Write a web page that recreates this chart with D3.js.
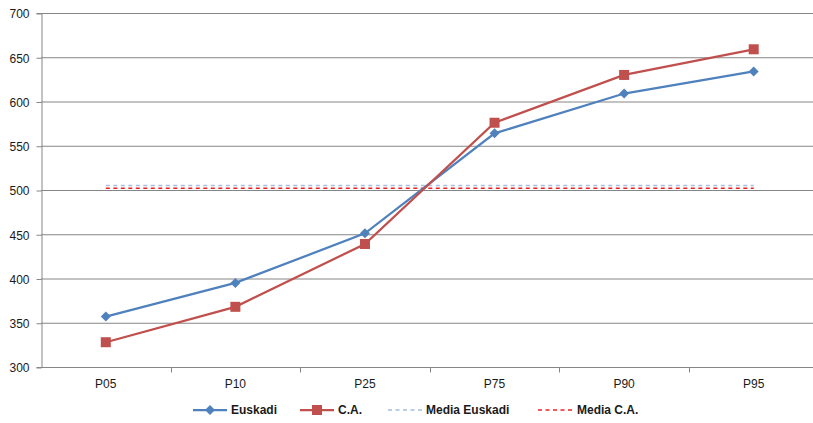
<!DOCTYPE html>
<html>
<head>
<meta charset="utf-8">
<script src="https://cdn.jsdelivr.net/npm/d3@7"></script>
<style>
  html, body { margin: 0; padding: 0; background: #fff; }
  svg { display: block; }
  text { font-family: "Liberation Sans", Arial, sans-serif; }
</style>
</head>
<body>
<svg id="chart" width="813" height="423"></svg>
<script>
// Percentile categories and scores
const categories = ["P05", "P10", "P25", "P75", "P90", "P95"];
const euskadi = [357, 395, 451, 564, 609, 634];
const ca = [328, 368, 439, 576, 630, 659];
const mediaEuskadi = 505;
const mediaCA = 502;
const yTicks = [300, 350, 400, 450, 500, 550, 600, 650, 700];

const svg = d3.select("#chart");
const plotLeft = 41, plotRight = 818.5, plotTop = 13, plotBottom = 367;

const x = d3.scaleBand().domain(categories).range([plotLeft, plotRight]).padding(0);
const cx = c => x(c) + x.bandwidth() / 2;
const y = d3.scaleLinear().domain([300, 700]).range([plotBottom, plotTop]);

const gridColor = "#868686";
const diamond = d3.symbol(d3.symbolSquare, 50);

// horizontal gridlines
svg.append("g").selectAll("line")
  .data(yTicks.filter(t => t > 300))
  .join("line")
  .attr("x1", plotLeft).attr("x2", plotRight)
  .attr("y1", d => y(d) + 0.5).attr("y2", d => y(d) + 0.5)
  .attr("stroke", gridColor).attr("stroke-width", 1);

// y axis
const yAxis = svg.append("g")
  .attr("transform", `translate(${plotLeft + 0.5},0)`)
  .call(d3.axisLeft(y).tickValues(yTicks).tickSize(5).tickPadding(7));
yAxis.select(".domain").attr("stroke", gridColor);
yAxis.selectAll(".tick line").attr("stroke", gridColor).attr("transform", "translate(0,0.5)");
yAxis.selectAll(".tick text").attr("font-size", 12).attr("fill", "#1a1a1a").attr("dy", "0.4em");

// x axis with ticks between categories
const xAxis = svg.append("g")
  .attr("transform", `translate(0,${plotBottom + 0.5})`);
xAxis.append("line")
  .attr("x1", plotLeft).attr("x2", plotRight)
  .attr("stroke", gridColor);
xAxis.selectAll("line.tk")
  .data(categories.slice(1))
  .join("line").attr("class", "tk")
  .attr("x1", d => Math.round(x(d)) + 0.5).attr("x2", d => Math.round(x(d)) + 0.5)
  .attr("y1", 0).attr("y2", 5)
  .attr("stroke", gridColor);
xAxis.selectAll("text")
  .data(categories)
  .join("text")
  .attr("x", d => cx(d)).attr("y", 20)
  .attr("text-anchor", "middle")
  .attr("font-size", 12).attr("fill", "#1a1a1a")
  .text(d => d);

// mean reference lines
const meanLines = [
  { v: mediaEuskadi, color: "#A7BFDE" },
  { v: mediaCA, color: "#F02020" }
];
svg.append("g").selectAll("line")
  .data(meanLines)
  .join("line")
  .attr("x1", cx(categories[0])).attr("x2", cx(categories[categories.length - 1]))
  .attr("y1", d => y(d.v)).attr("y2", d => y(d.v))
  .attr("stroke", d => d.color).attr("stroke-width", 1.5)
  .attr("stroke-dasharray", "4,3.5");

const line = d3.line().x((d, i) => cx(categories[i])).y(d => y(d));

// Euskadi series
svg.append("path").datum(euskadi)
  .attr("d", line).attr("fill", "none")
  .attr("stroke", "#4F81BD").attr("stroke-width", 2.25);
svg.append("g").selectAll("path")
  .data(euskadi)
  .join("path")
  .attr("transform", (d, i) => `translate(${cx(categories[i])},${y(d)}) rotate(45)`)
  .attr("d", diamond)
  .attr("fill", "#4F81BD");

// C.A. series
svg.append("path").datum(ca)
  .attr("d", line).attr("fill", "none")
  .attr("stroke", "#C0504D").attr("stroke-width", 2.25);
svg.append("g").selectAll("rect")
  .data(ca)
  .join("rect")
  .attr("x", (d, i) => cx(categories[i]) - 5).attr("y", d => y(d) - 5)
  .attr("width", 10).attr("height", 10)
  .attr("fill", "#C0504D");

// legend
const legendY = 410;
const legend = [
  { label: "Euskadi", x1: 193, x2: 227, color: "#4F81BD", width: 2.25, dash: null, marker: "diamond" },
  { label: "C.A.", x1: 300, x2: 334, color: "#C0504D", width: 2.25, dash: null, marker: "square" },
  { label: "Media Euskadi", x1: 388, x2: 422, color: "#A7BFDE", width: 1.5, dash: "4,3.5", marker: null },
  { label: "Media C.A.", x1: 538, x2: 573, color: "#F02020", width: 1.5, dash: "4,3.5", marker: null }
];
const lg = svg.append("g").selectAll("g").data(legend).join("g");
lg.append("line")
  .attr("x1", d => d.x1).attr("x2", d => d.x2)
  .attr("y1", legendY).attr("y2", legendY)
  .attr("stroke", d => d.color).attr("stroke-width", d => d.width)
  .attr("stroke-dasharray", d => d.dash);
lg.filter(d => d.marker === "diamond").append("path")
  .attr("transform", d => `translate(${(d.x1 + d.x2) / 2},${legendY}) rotate(45)`)
  .attr("d", diamond)
  .attr("fill", d => d.color);
lg.filter(d => d.marker === "square").append("rect")
  .attr("x", d => (d.x1 + d.x2) / 2 - 5).attr("y", legendY - 5)
  .attr("width", 10).attr("height", 10)
  .attr("fill", d => d.color);
lg.append("text")
  .attr("x", d => d.x2 + 4).attr("y", legendY + 4)
  .attr("font-size", 12).attr("font-weight", "bold").attr("fill", "#1a1a1a")
  .text(d => d.label);
</script>
</body>
</html>
